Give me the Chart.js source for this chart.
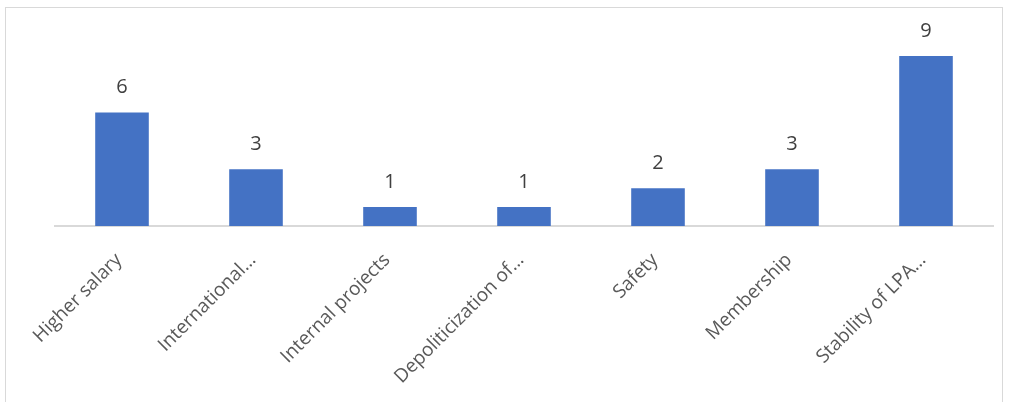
<!DOCTYPE html>
<html>
<head>
<meta charset="utf-8">
<script src="https://cdn.jsdelivr.net/npm/chart.js@4"></script>
<style>
  body { margin: 0; background: #fff; }
  #wrap { position: relative; width: 1014px; height: 402px; }
  #frame { position: absolute; left: 5px; top: 7px; width: 996px; height: 400px; border: 1px solid #d9d9d9; }
  canvas { position: absolute; left: 0; top: 0; }
</style>
</head>
<body>
<div id="wrap">
  <div id="frame"></div>
  <canvas id="chart" width="1014" height="402"></canvas>
</div>
<script>
const categories = ['Higher salary', 'International\u2026', 'Internal projects', 'Depoliticization of\u2026', 'Safety', 'Membership', 'Stability of LPA\u2026'];
const counts = [6, 3, 1, 1, 2, 3, 9];

// value labels above each bar
const barLabels = {
  id: 'barLabels',
  afterDatasetsDraw(chart) {
    const ctx = chart.ctx;
    const meta = chart.getDatasetMeta(0);
    ctx.save();
    ctx.font = '20px "Open Sans"';
    ctx.fillStyle = '#404040';
    ctx.textAlign = 'center';
    ctx.textBaseline = 'middle';
    meta.data.forEach((bar, i) => {
      ctx.fillText(counts[i], bar.x, bar.y - 25);
    });
    ctx.restore();
  }
};

const ctx = document.getElementById('chart').getContext('2d');

const chart = new Chart(ctx, {
  type: 'bar',
  data: {
    labels: categories,
    datasets: [{
      data: counts,
      backgroundColor: '#4472C4',
      categoryPercentage: 1,
      barPercentage: 0.4
    }]
  },
  options: {
    responsive: false,
    animation: false,
    layout: { padding: { top: 37, left: 55, right: 21, bottom: 0 } },
    plugins: {
      legend: { display: false },
      tooltip: { enabled: false }
    },
    scales: {
      x: {
        grid: { display: false, drawTicks: false },
        border: { display: true, color: '#d9d9d9', width: 2 },
        ticks: {
          color: '#595959',
          font: { family: 'Open Sans', size: 19 },
          maxRotation: 45,
          minRotation: 45,
          autoSkip: false,
          padding: 23,
          labelOffset: -3
        },
        afterFit(scale) { scale.height = 176; }
      },
      y: {
        display: false,
        min: 0,
        max: 10
      }
    }
  },
  plugins: [barLabels]
});
</script>
</body>
</html>
